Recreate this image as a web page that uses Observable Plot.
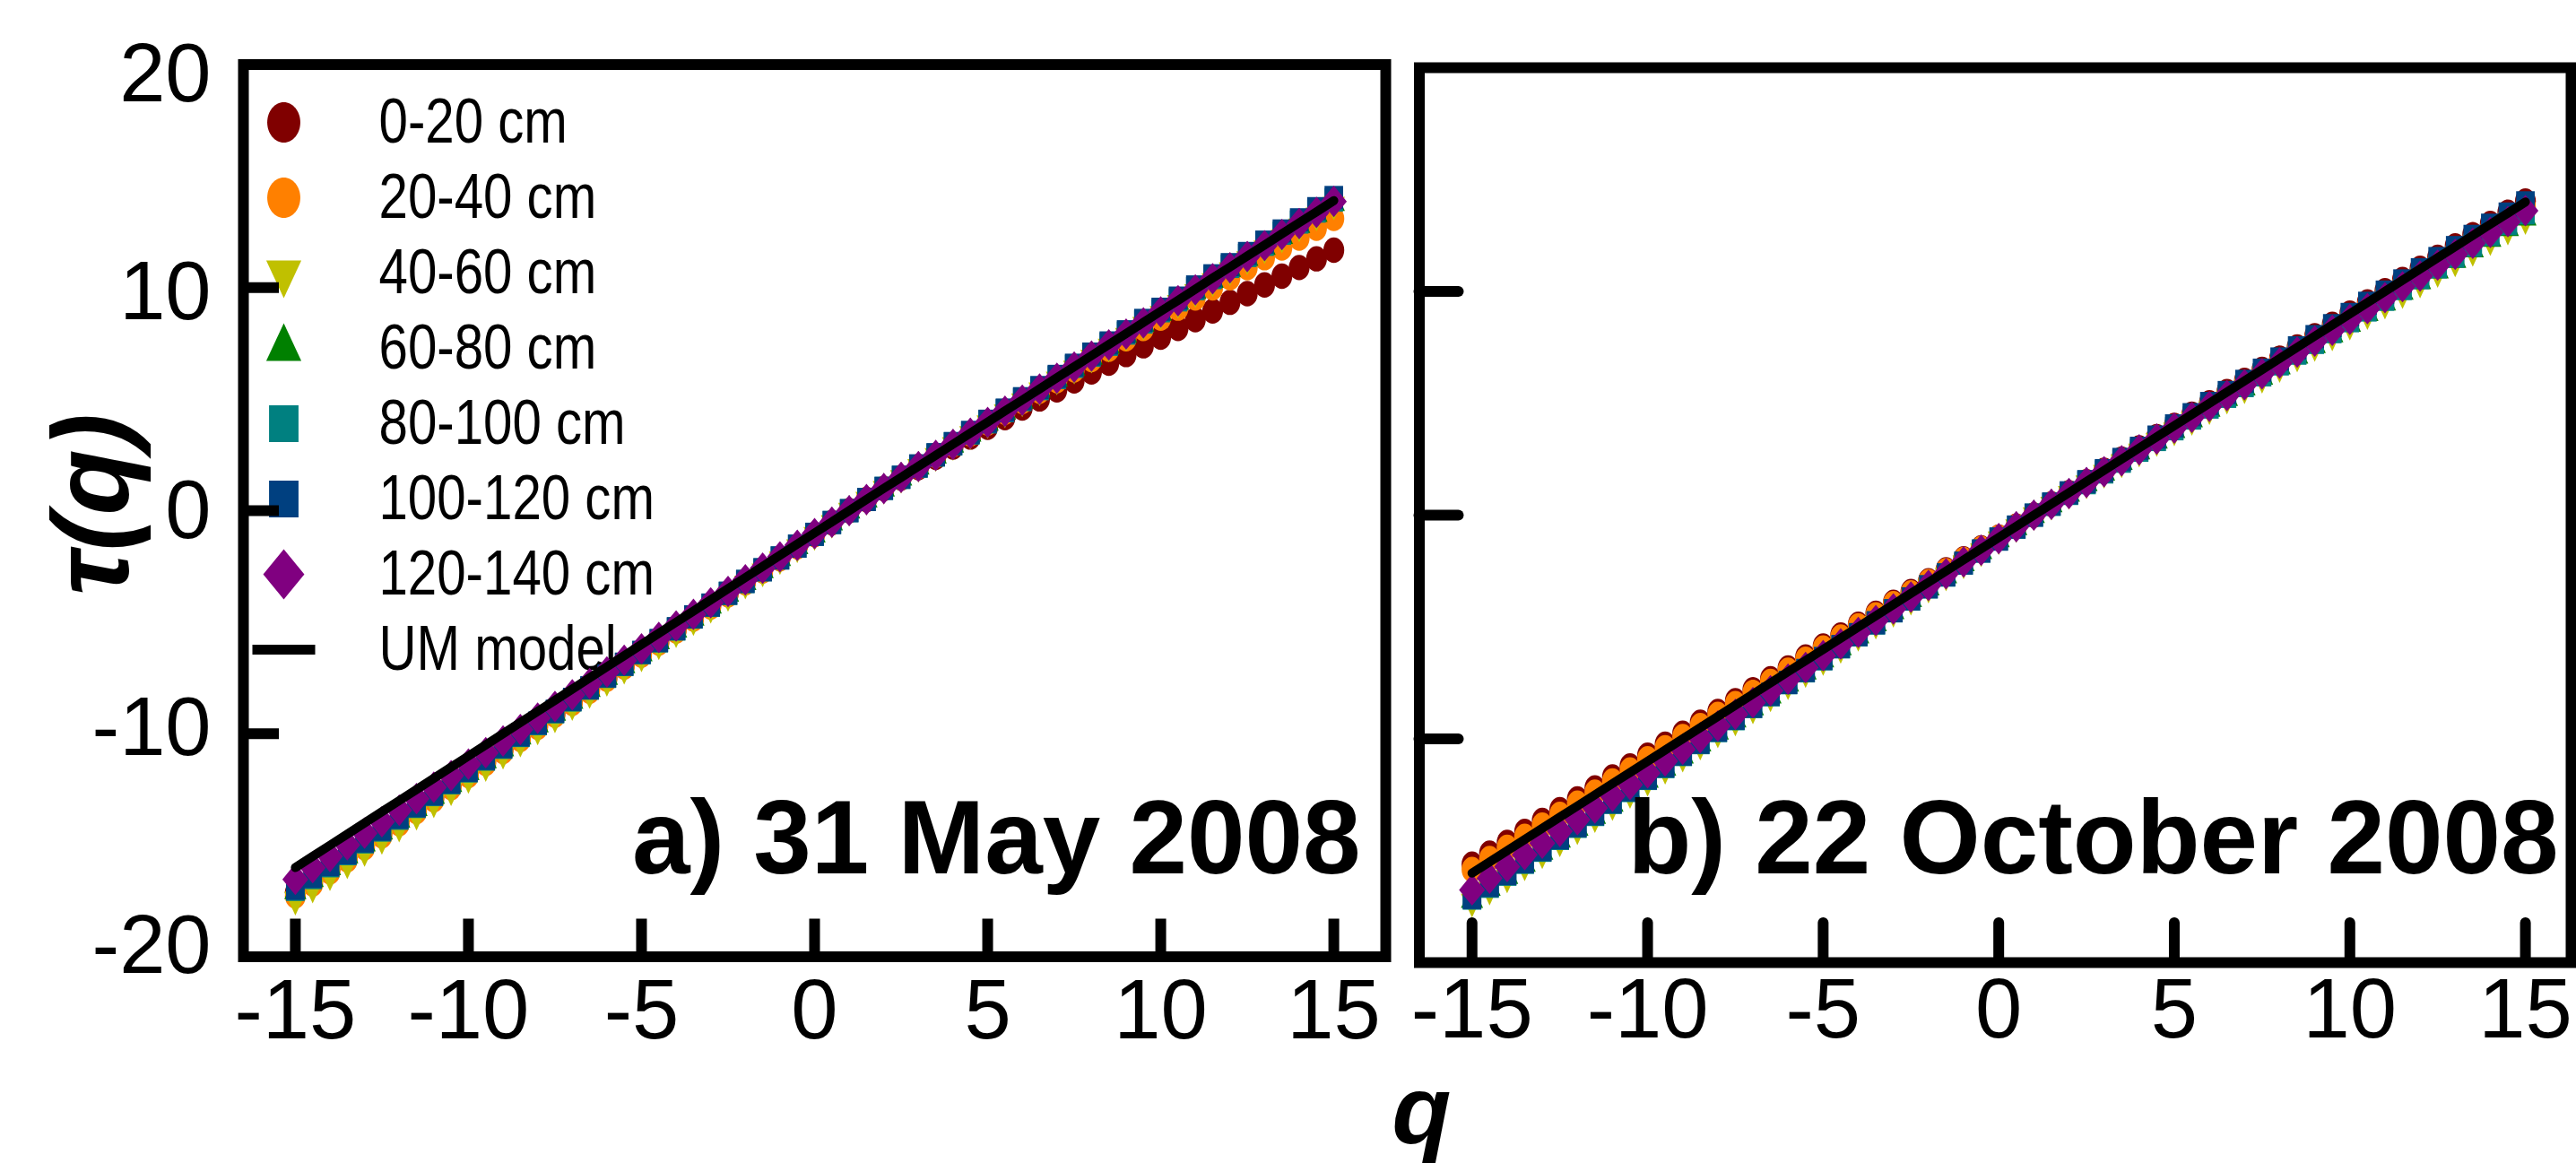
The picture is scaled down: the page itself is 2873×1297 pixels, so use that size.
<!DOCTYPE html>
<html>
<head>
<meta charset="utf-8">
<script src="https://cdn.jsdelivr.net/npm/d3@7"></script>
<script src="https://cdn.jsdelivr.net/npm/@observablehq/plot@0.6"></script>
<style>
  html, body { margin: 0; padding: 0; background: white; }
  #wrap { position: relative; width: 2873px; height: 1297px; background: white; overflow: hidden; }
  #wrap > div { position: absolute; }
</style>
</head>
<body>
<div id="wrap">
  <div id="legend" style="left:280px; top:90px;"></div>
  <div id="panelA" style="left:0px; top:0px;"></div>
  <div id="panelB" style="left:1566px; top:0px;"></div>
</div>
<script>
// ---------------- data ----------------
const depths = ["0-20 cm", "20-40 cm", "40-60 cm", "60-80 cm", "80-100 cm", "100-120 cm", "120-140 cm"];
const modelLabel = "UM model";
const colors = ["#800000", "#ff8000", "#c0c000", "#008000", "#008080", "#004080", "#800080"];
const panelTitles = ["a) 31 May 2008", "b) 22 October 2008"];
const xTicks = [-15, -10, -5, 0, 5, 10, 15];
const yTickLabels = [20, 10, 0, -10, -20];
const yTickMarks = [-10, 0, 10];

const q = [-15,-14.5,-14,-13.5,-13,-12.5,-12,-11.5,-11,-10.5,-10,-9.5,-9,-8.5,-8,-7.5,-7,-6.5,-6,-5.5,-5,-4.5,-4,-3.5,-3,-2.5,-2,-1.5,-1,-0.5,0,0.5,1,1.5,2,2.5,3,3.5,4,4.5,5,5.5,6,6.5,7,7.5,8,8.5,9,9.5,10,10.5,11,11.5,12,12.5,13,13.5,14,14.5,15];

// Panel a: 31 May 2008
const tauA_0_20 = [-17.12,-16.59,-16.05,-15.52,-14.98,-14.45,-13.91,-13.38,-12.84,-12.31,-11.77,-11.24,-10.70,-10.17,-9.63,-9.10,-8.56,-8.03,-7.49,-6.96,-6.42,-5.89,-5.35,-4.82,-4.28,-3.75,-3.21,-2.68,-2.14,-1.61,-1.07,-0.54,0,
  0.49,0.98,1.46,1.93,2.39,2.85,3.30,3.74,4.17,4.60,5.01,5.42,5.82,6.22,6.61,7.00,7.39,7.78,8.17,8.56,8.95,9.34,9.73,10.12,10.51,10.90,11.29,11.68];
const tauA_20_40 = [-17.28,-16.74,-16.20,-15.66,-15.12,-14.58,-14.04,-13.50,-12.96,-12.42,-11.88,-11.34,-10.80,-10.26,-9.72,-9.18,-8.64,-8.10,-7.56,-7.02,-6.48,-5.94,-5.40,-4.86,-4.32,-3.78,-3.24,-2.70,-2.16,-1.62,-1.08,-0.54,0,
  0.50,1.00,1.49,1.98,2.47,2.96,3.44,3.93,4.41,4.89,5.36,5.83,6.31,6.77,7.24,7.71,8.17,8.63,9.08,9.54,9.99,10.44,10.89,11.34,11.78,12.22,12.66,13.10];
const tauA_40_60 = [-17.44,-16.90,-16.35,-15.81,-15.26,-14.72,-14.17,-13.63,-13.08,-12.54,-11.99,-11.45,-10.90,-10.36,-9.81,-9.27,-8.72,-8.18,-7.63,-7.09,-6.54,-6.00,-5.45,-4.91,-4.36,-3.82,-3.27,-2.73,-2.18,-1.64,-1.09,-0.55,0,
  0.49,0.98,1.47,1.96,2.45,2.94,3.43,3.92,4.41,4.90,5.39,5.88,6.37,6.86,7.35,7.84,8.33,8.82,9.31,9.80,10.29,10.78,11.27,11.76,12.25,12.74,13.23,13.72];
const tauA_60_80 = [-17.06,-16.52,-15.99,-15.46,-14.92,-14.39,-13.86,-13.33,-12.79,-12.26,-11.73,-11.19,-10.66,-10.13,-9.59,-9.06,-8.53,-8.00,-7.46,-6.93,-6.40,-5.86,-5.33,-4.80,-4.26,-3.73,-3.20,-2.67,-2.13,-1.60,-1.07,-0.53,0,
  0.49,0.99,1.48,1.97,2.46,2.96,3.45,3.94,4.43,4.93,5.42,5.91,6.40,6.90,7.39,7.88,8.37,8.87,9.36,9.85,10.34,10.84,11.33,11.82,12.31,12.81,13.30,13.79];
const tauA_80_100 = [-16.98,-16.45,-15.92,-15.38,-14.85,-14.32,-13.79,-13.26,-12.73,-12.20,-11.67,-11.14,-10.61,-10.08,-9.55,-9.02,-8.49,-7.96,-7.43,-6.90,-6.37,-5.84,-5.31,-4.77,-4.24,-3.71,-3.18,-2.65,-2.12,-1.59,-1.06,-0.53,0,
  0.50,1.00,1.49,1.99,2.49,2.99,3.48,3.98,4.48,4.98,5.47,5.97,6.47,6.97,7.46,7.96,8.46,8.96,9.45,9.95,10.45,10.95,11.44,11.94,12.44,12.94,13.43,13.93];
const tauA_100_120 = [-16.93,-16.40,-15.87,-15.34,-14.81,-14.28,-13.75,-13.23,-12.70,-12.17,-11.64,-11.11,-10.58,-10.05,-9.52,-8.99,-8.46,-7.94,-7.41,-6.88,-6.35,-5.82,-5.29,-4.76,-4.23,-3.70,-3.17,-2.65,-2.12,-1.59,-1.06,-0.53,0,
  0.50,1.00,1.50,2.01,2.51,3.01,3.51,4.01,4.51,5.02,5.52,6.02,6.52,7.02,7.52,8.02,8.53,9.03,9.53,10.03,10.53,11.03,11.53,12.04,12.54,13.04,13.54,14.04];
const tauA_120_140 = [-16.53,-16.01,-15.50,-14.98,-14.46,-13.95,-13.43,-12.91,-12.40,-11.88,-11.36,-10.85,-10.33,-9.81,-9.30,-8.78,-8.26,-7.75,-7.23,-6.71,-6.20,-5.68,-5.17,-4.65,-4.13,-3.62,-3.10,-2.58,-2.07,-1.55,-1.03,-0.52,0,
  0.50,0.99,1.49,1.98,2.48,2.97,3.47,3.96,4.46,4.95,5.45,5.94,6.44,6.93,7.43,7.92,8.42,8.91,9.41,9.90,10.40,10.89,11.39,11.88,12.38,12.87,13.37,13.86];
const umA = [-16,-15.5,-15,-14.5,-14,-13.5,-13,-12.5,-12,-11.5,-11,-10.5,-10,-9.5,-9,-8.5,-8,-7.5,-7,-6.5,-6,-5.5,-5,-4.5,-4,-3.5,-3,-2.5,-2,-1.5,-1,-0.5,0,
  0.50,1.00,1.49,1.99,2.48,2.98,3.48,3.97,4.47,4.96,5.46,5.96,6.45,6.95,7.45,7.94,8.44,8.94,9.43,9.93,10.43,10.92,11.42,11.91,12.41,12.91,13.40,13.90];

// Panel b: 22 October 2008
const tauB_0_20 = [-15.60,-15.11,-14.63,-14.14,-13.65,-13.16,-12.68,-12.19,-11.70,-11.21,-10.73,-10.24,-9.75,-9.26,-8.78,-8.29,-7.80,-7.31,-6.83,-6.34,-5.85,-5.36,-4.88,-4.39,-3.90,-3.41,-2.93,-2.44,-1.95,-1.46,-0.98,-0.49,0,
  0.50,1.00,1.50,2.01,2.51,3.01,3.51,4.01,4.51,5.02,5.52,6.02,6.52,7.02,7.52,8.02,8.53,9.03,9.53,10.03,10.53,11.03,11.53,12.04,12.54,13.04,13.54,14.04];
const tauB_20_40 = [-15.84,-15.35,-14.85,-14.36,-13.86,-13.37,-12.87,-12.38,-11.88,-11.39,-10.89,-10.40,-9.90,-9.41,-8.91,-8.42,-7.92,-7.43,-6.93,-6.44,-5.94,-5.45,-4.95,-4.46,-3.96,-3.47,-2.97,-2.48,-1.98,-1.49,-0.99,-0.50,0,
  0.49,0.99,1.48,1.97,2.46,2.96,3.45,3.94,4.43,4.93,5.42,5.91,6.40,6.90,7.39,7.88,8.37,8.87,9.36,9.85,10.34,10.84,11.33,11.82,12.31,12.81,13.30,13.79];
const tauB_40_60 = [-17.28,-16.74,-16.20,-15.66,-15.12,-14.58,-14.04,-13.50,-12.96,-12.42,-11.88,-11.34,-10.80,-10.26,-9.72,-9.18,-8.64,-8.10,-7.56,-7.02,-6.48,-5.94,-5.40,-4.86,-4.32,-3.78,-3.24,-2.70,-2.16,-1.62,-1.08,-0.54,0,
  0.47,0.95,1.42,1.89,2.36,2.84,3.31,3.78,4.25,4.73,5.20,5.67,6.14,6.62,7.09,7.56,8.03,8.51,8.98,9.45,9.92,10.40,10.87,11.34,11.81,12.29,12.76,13.23];
const tauB_60_80 = [-17.20,-16.66,-16.13,-15.59,-15.05,-14.51,-13.98,-13.44,-12.90,-12.36,-11.83,-11.29,-10.75,-10.21,-9.68,-9.14,-8.60,-8.06,-7.53,-6.99,-6.45,-5.91,-5.38,-4.84,-4.30,-3.76,-3.23,-2.69,-2.15,-1.61,-1.08,-0.54,0,
  0.48,0.95,1.43,1.90,2.38,2.85,3.33,3.80,4.28,4.75,5.23,5.70,6.18,6.65,7.13,7.60,8.08,8.55,9.03,9.50,9.98,10.45,10.93,11.40,11.88,12.35,12.83,13.30];
const tauB_80_100 = [-17.12,-16.59,-16.05,-15.52,-14.98,-14.45,-13.91,-13.38,-12.84,-12.31,-11.77,-11.24,-10.70,-10.17,-9.63,-9.10,-8.56,-8.03,-7.49,-6.96,-6.42,-5.89,-5.35,-4.82,-4.28,-3.75,-3.21,-2.68,-2.14,-1.61,-1.07,-0.54,0,
  0.48,0.97,1.45,1.93,2.41,2.90,3.38,3.86,4.34,4.83,5.31,5.79,6.27,6.76,7.24,7.72,8.20,8.69,9.17,9.65,10.13,10.62,11.10,11.58,12.06,12.55,13.03,13.51];
const tauB_100_120 = [-17.09,-16.55,-16.02,-15.49,-14.95,-14.42,-13.88,-13.35,-12.82,-12.28,-11.75,-11.21,-10.68,-10.15,-9.61,-9.08,-8.54,-8.01,-7.48,-6.94,-6.41,-5.87,-5.34,-4.81,-4.27,-3.74,-3.20,-2.67,-2.14,-1.60,-1.07,-0.53,0,
  0.50,1.00,1.50,1.99,2.49,2.99,3.49,3.99,4.49,4.99,5.48,5.98,6.48,6.98,7.48,7.98,8.47,8.97,9.47,9.97,10.47,10.97,11.47,11.96,12.46,12.96,13.46,13.96];
const tauB_120_140 = [-16.75,-16.23,-15.71,-15.18,-14.66,-14.13,-13.61,-13.09,-12.56,-12.04,-11.52,-10.99,-10.47,-9.95,-9.42,-8.90,-8.38,-7.85,-7.33,-6.81,-6.28,-5.76,-5.24,-4.71,-4.19,-3.66,-3.14,-2.62,-2.09,-1.57,-1.05,-0.52,0,
  0.49,0.97,1.46,1.94,2.43,2.92,3.40,3.89,4.37,4.86,5.35,5.83,6.32,6.80,7.29,7.78,8.26,8.75,9.23,9.72,10.21,10.69,11.18,11.66,12.15,12.64,13.12,13.61];
const umB = [-16,-15.5,-15,-14.5,-14,-13.5,-13,-12.5,-12,-11.5,-11,-10.5,-10,-9.5,-9,-8.5,-8,-7.5,-7,-6.5,-6,-5.5,-5,-4.5,-4,-3.5,-3,-2.5,-2,-1.5,-1,-0.5,0,
  0.5,1,1.5,2,2.5,3,3.5,4,4.5,5,5.5,6,6.5,7,7.5,8,8.5,9,9.5,10,10.5,11,11.5,12,12.5,13,13.5,14];

// ---------------- symbols (slightly tall marker shapes) ----------------
const rad = (size) => Math.sqrt(size / Math.PI);
const symEllipse = {draw(c, size) {
  const r = rad(size), rx = 0.82 * r, ry = r, k = 0.5523;
  c.moveTo(rx, 0);
  c.bezierCurveTo(rx, ry * k, rx * k, ry, 0, ry);
  c.bezierCurveTo(-rx * k, ry, -rx, ry * k, -rx, 0);
  c.bezierCurveTo(-rx, -ry * k, -rx * k, -ry, 0, -ry);
  c.bezierCurveTo(rx * k, -ry, rx, -ry * k, rx, 0);
  c.closePath();
}};
const symTriDown = {draw(c, size) {
  const r = rad(size);
  c.moveTo(-0.87 * r, -0.62 * r); c.lineTo(0.87 * r, -0.62 * r); c.lineTo(0, 1.24 * r); c.closePath();
}};
const symTriUp = {draw(c, size) {
  const r = rad(size);
  c.moveTo(-0.87 * r, 0.62 * r); c.lineTo(0.87 * r, 0.62 * r); c.lineTo(0, -1.24 * r); c.closePath();
}};
const symSquare = {draw(c, size) {
  const r = rad(size);
  c.rect(-0.73 * r, -0.91 * r, 1.46 * r, 1.82 * r);
}};
const symDiamond = {draw(c, size) {
  const r = rad(size);
  c.moveTo(0, -1.24 * r); c.lineTo(1.02 * r, 0); c.lineTo(0, 1.24 * r); c.lineTo(-1.02 * r, 0); c.closePath();
}};
const symDash = {draw(c, size) {
  const r = rad(size);
  c.moveTo(-r, 0); c.lineTo(r, 0);
}};
const symbols = [symEllipse, symEllipse, symTriDown, symTriUp, symSquare, symSquare, symDiamond];

// ---------------- tidy tables ----------------
const seriesA = [tauA_0_20, tauA_20_40, tauA_40_60, tauA_60_80, tauA_80_100, tauA_100_120, tauA_120_140];
const seriesB = [tauB_0_20, tauB_20_40, tauB_40_60, tauB_60_80, tauB_80_100, tauB_100_120, tauB_120_140];
const tidy = (series) => series.flatMap((vals, s) => vals.map((v, i) => ({q: q[i], tau: v, depth: depths[s]})));
const rowsA = tidy(seriesA), rowsB = tidy(seriesB);
const lineA = umA.map((v, i) => ({q: q[i], tau: v}));
const lineB = umB.map((v, i) => ({q: q[i], tau: v}));

const FONT = '"Liberation Sans", Arial, Helvetica, sans-serif';
const fmt = (d) => String(d);
const baseStyle = {fontFamily: FONT, background: "transparent", overflow: "visible", color: "black"};
const MARK_R = 14.2;
const LINE_W = 10;
// small vertical nudges of the y tick labels (the original's labels sit slightly inside the ticks)
const yLabelNudge = [12, 6, 1, -6, -11];

// ---------------- panel a ----------------
const panelA = Plot.plot({
  width: 1565, height: 1297,
  marginLeft: 271, marginRight: 20, marginTop: 71.5, marginBottom: 230.5,
  x: {domain: [-16.5, 16.5]},
  y: {domain: [-20, 20]},
  symbol: {domain: depths, range: symbols},
  color: {domain: depths, range: colors},
  style: baseStyle,
  marks: [
    Plot.axisX({ticks: xTicks, tickSize: 0, tickPadding: 24, tickFormat: fmt, fontSize: 94, label: null}),
    Plot.axisX({ticks: xTicks, tickSize: -42, text: null, strokeWidth: 12, label: null}),
    ...yTickLabels.map((t, i) => Plot.axisY({ticks: [t], tickSize: 0, tickPadding: 36, tickFormat: fmt, fontSize: 92, label: null, dy: yLabelNudge[i]})),
    Plot.axisY({ticks: yTickMarks, tickSize: -40, text: null, strokeWidth: 12, label: null}),
    Plot.dot(rowsA, {x: "q", y: "tau", symbol: "depth", fill: "depth", r: MARK_R}),
    Plot.line(lineA, {x: "q", y: "tau", stroke: "black", strokeWidth: LINE_W}),
    Plot.frame({stroke: "black", strokeWidth: 12}),
    Plot.text([panelTitles[0]], {text: (d) => d, frameAnchor: "bottom-right", textAnchor: "end", lineAnchor: "middle",
      dx: -28, dy: -130.5, fontSize: 116, fontWeight: "bold"}),
    Plot.text(["τ(q)"], {text: (d) => d, frameAnchor: "left", rotate: -90, textAnchor: "middle", lineAnchor: "middle",
      dx: -167, dy: -7, fontSize: 120, fontWeight: "bold", fontStyle: "italic"})
  ]
});
document.getElementById("panelA").appendChild(panelA);

// ---------------- panel b ----------------
const panelB = Plot.plot({
  width: 1307, height: 1297,
  marginLeft: 16.5, marginRight: 6, marginTop: 75, marginBottom: 224,
  x: {domain: [-16.5, 16.3]},
  y: {domain: [-20, 20]},
  symbol: {domain: depths, range: symbols},
  color: {domain: depths, range: colors},
  style: baseStyle,
  marks: [
    Plot.axisX({ticks: xTicks, tickSize: 0, tickPadding: 17, tickFormat: fmt, fontSize: 94, label: null}),
    Plot.axisX({ticks: xTicks, tickSize: -44, text: null, strokeWidth: 12, strokeLinecap: "round", label: null}),
    Plot.axisY({ticks: yTickMarks, tickSize: -44, text: null, strokeWidth: 12, strokeLinecap: "round", label: null}),
    Plot.dot(rowsB, {x: "q", y: "tau", symbol: "depth", fill: "depth", r: MARK_R}),
    Plot.line(lineB, {x: "q", y: "tau", stroke: "black", strokeWidth: LINE_W}),
    Plot.frame({stroke: "black", strokeWidth: 12}),
    Plot.text([panelTitles[1]], {text: (d) => d, frameAnchor: "bottom-right", textAnchor: "end", lineAnchor: "middle",
      dx: -14, dy: -137, fontSize: 116, fontWeight: "bold"}),
    Plot.text(["q"], {text: (d) => d, frameAnchor: "bottom-left", textAnchor: "middle", lineAnchor: "middle",
      dx: 2.5, dy: 167, fontSize: 108, fontWeight: "bold", fontStyle: "italic"})
  ]
});
document.getElementById("panelB").appendChild(panelB);

// ---------------- legend (inside panel a, drawn beneath the data) ----------------
const legendItems = [...depths, modelLabel];
const legend = Plot.plot({
  width: 520, height: 680,
  marginLeft: 36, marginRight: 0, marginTop: 43.5, marginBottom: 44.2,
  y: {type: "point", domain: legendItems, padding: 0, axis: null},
  symbol: {domain: legendItems, range: [...symbols, symDash]},
  color: {domain: depths, range: colors},
  style: baseStyle,
  marks: [
    Plot.dot(depths, {y: (d) => d, symbol: (d) => d, fill: (d) => d, r: 22.5, frameAnchor: "left"}),
    Plot.dot([modelLabel], {y: (d) => d, symbol: (d) => d, fill: "none", stroke: "black", strokeWidth: 11, r: 35, frameAnchor: "left"}),
    Plot.text(legendItems, {y: (d) => d, text: (d) => d, frameAnchor: "left", textAnchor: "start", lineAnchor: "middle",
      dx: 106, fontSize: 71})
  ]
});
document.getElementById("legend").appendChild(legend);
// legend labels in the reference are set in a narrow face: condense horizontally
legend.querySelectorAll("text").forEach((t) => {
  const w = t.getComputedTextLength();
  if (w > 0) { t.setAttribute("textLength", (w * 0.82).toFixed(1)); t.setAttribute("lengthAdjust", "spacingAndGlyphs"); }
});
</script>
</body>
</html>
